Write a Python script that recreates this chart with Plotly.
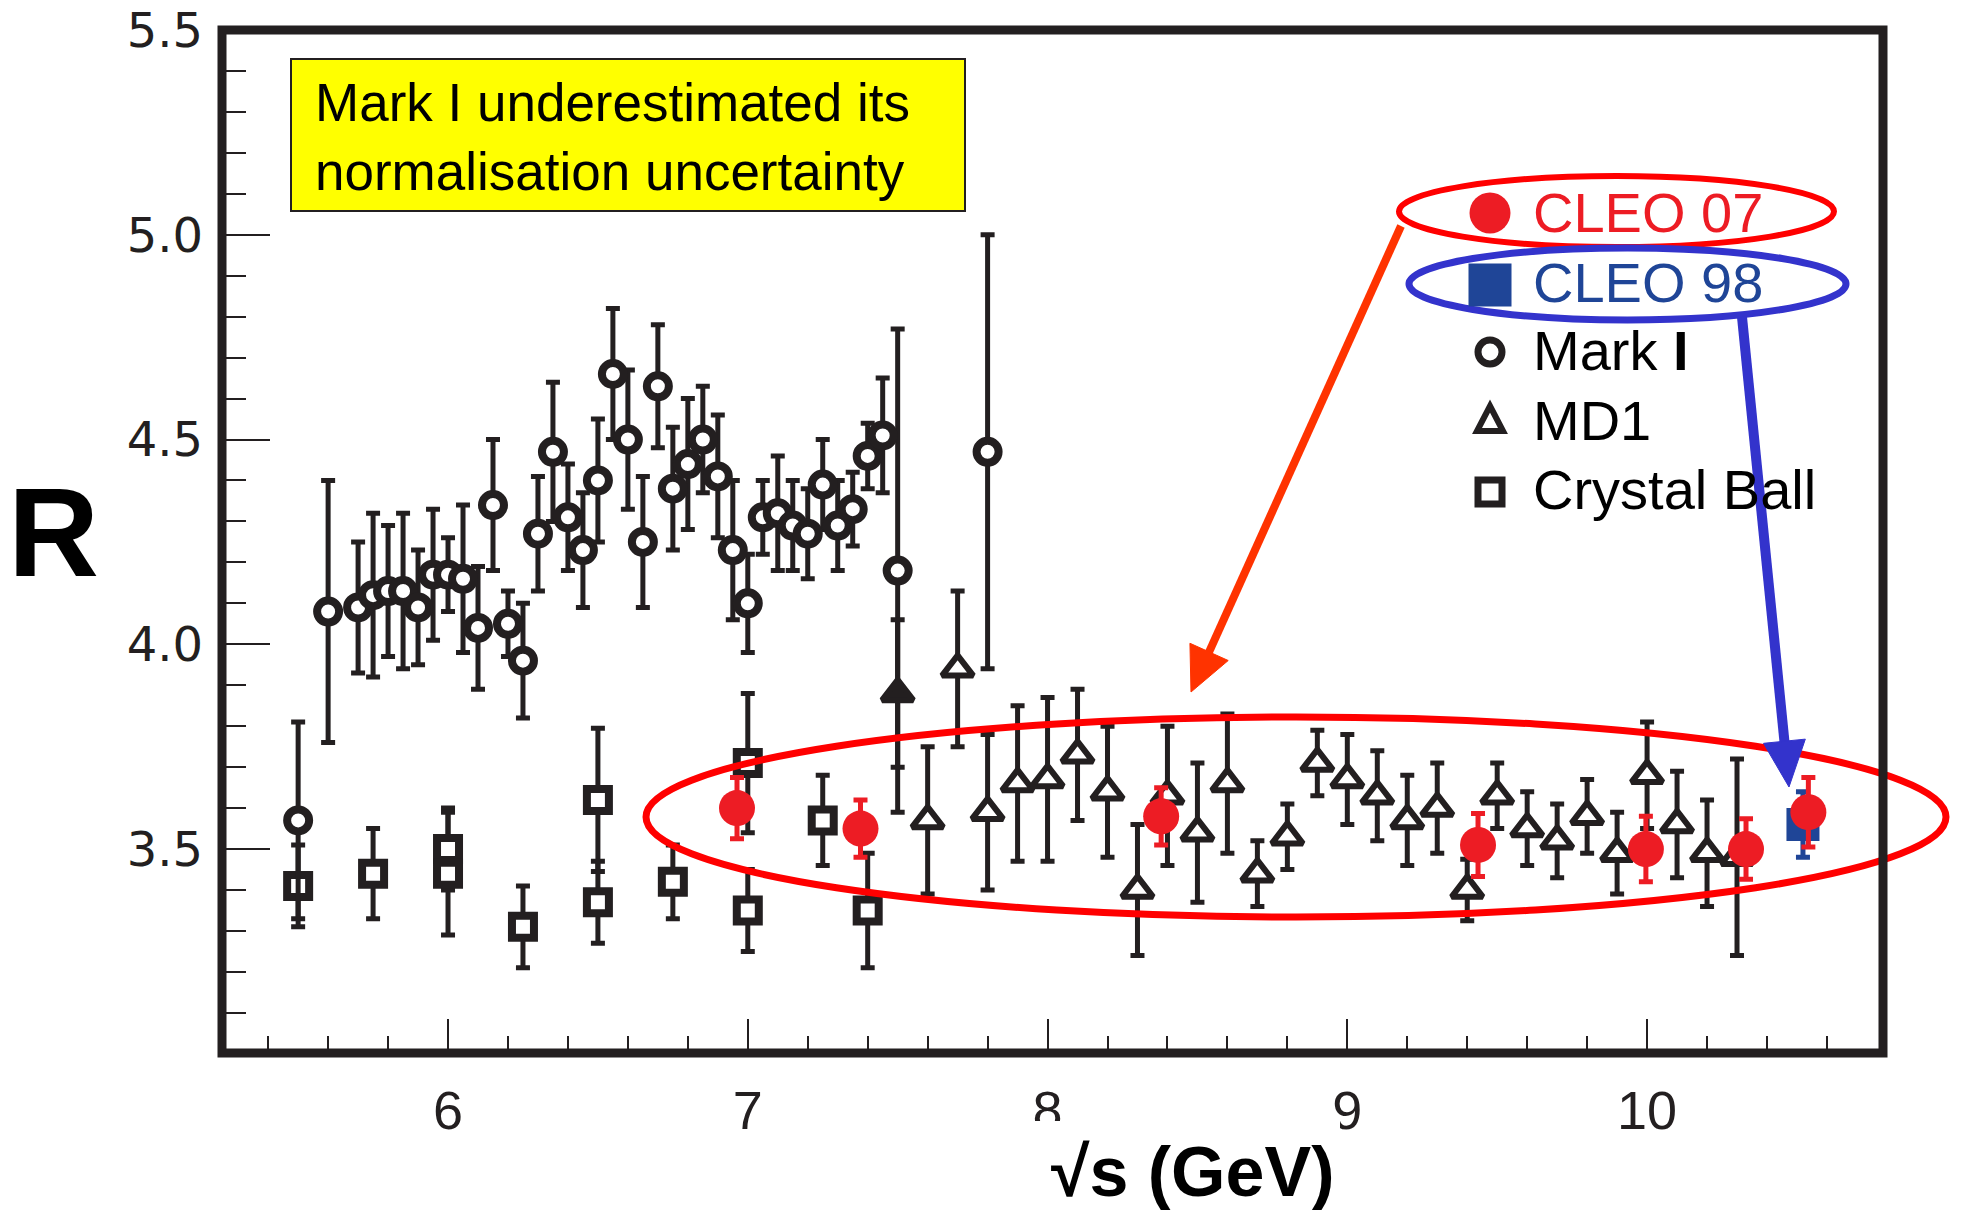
import plotly.graph_objects as go

# ---------------- data: R = sigma(e+e- -> hadrons) / sigma(mumu) ----------------
# Mark I
mark1_x = [5.50, 5.60, 5.70, 5.75, 5.80, 5.85, 5.90, 5.95, 6.00, 6.05,
           6.10, 6.15, 6.20, 6.25, 6.30, 6.35, 6.40, 6.45, 6.50, 6.55,
           6.60, 6.65, 6.70, 6.75, 6.80, 6.85, 6.90, 6.95, 7.00, 7.05,
           7.10, 7.15, 7.20, 7.25, 7.30, 7.35, 7.40, 7.45, 7.50, 7.80]
mark1_r = [3.57, 4.08, 4.09, 4.12, 4.13, 4.13, 4.09, 4.17, 4.17, 4.16,
           4.04, 4.34, 4.05, 3.96, 4.27, 4.47, 4.31, 4.23, 4.40, 4.66,
           4.50, 4.25, 4.63, 4.38, 4.44, 4.50, 4.41, 4.23, 4.10, 4.31,
           4.32, 4.29, 4.27, 4.39, 4.29, 4.33, 4.46, 4.51, 4.18, 4.47]
mark1_err = [0.24, 0.32, 0.16, 0.20, 0.16, 0.19, 0.14, 0.16, 0.09, 0.18,
             0.15, 0.16, 0.08, 0.14, 0.14, 0.17, 0.13, 0.14, 0.15, 0.16,
             0.17, 0.16, 0.15, 0.15, 0.16, 0.13, 0.15, 0.17, 0.12, 0.09,
             0.14, 0.11, 0.11, 0.11, 0.11, 0.09, 0.08, 0.14, 0.59, 0.53]

# Crystal Ball
cb_x = [5.50, 5.75, 6.00, 6.00, 6.25, 6.50, 6.50, 6.75, 7.00, 7.00, 7.25, 7.40]
cb_r = [3.41, 3.44, 3.50, 3.44, 3.31, 3.62, 3.37, 3.42, 3.71, 3.35, 3.57, 3.35]
cb_err = [0.10, 0.11, 0.10, 0.15, 0.10, 0.175, 0.10, 0.09, 0.17, 0.10, 0.11, 0.14]

# MD1
md1_x = [7.60, 7.70, 7.80, 7.90, 8.00, 8.10, 8.20, 8.30, 8.40, 8.50,
         8.60, 8.70, 8.80, 8.90, 9.00, 9.10, 9.20, 9.30, 9.40, 9.50,
         9.60, 9.70, 9.80, 9.90, 10.00, 10.10, 10.20, 10.30]
md1_r = [3.57, 3.94, 3.59, 3.66, 3.67, 3.73, 3.64, 3.40, 3.63, 3.54,
         3.66, 3.44, 3.53, 3.71, 3.67, 3.63, 3.57, 3.60, 3.40, 3.63,
         3.55, 3.52, 3.58, 3.49, 3.68, 3.56, 3.49, 3.48]
md1_err = [0.18, 0.19, 0.19, 0.19, 0.20, 0.16, 0.16, 0.16, 0.17, 0.17,
           0.17, 0.08, 0.08, 0.08, 0.11, 0.11, 0.11, 0.11, 0.075, 0.08,
           0.09, 0.09, 0.09, 0.10, 0.13, 0.13, 0.13, 0.24]

# single solid triangle point at 7.5 GeV
solid_x = [7.50]
solid_r = [3.88]
solid_err = [0.18]

# CLEO 2007 scan points
cleo07_x = [6.964, 7.376, 8.379, 9.436, 9.996, 10.330, 10.538]
cleo07_r = [3.60, 3.55, 3.58, 3.51, 3.50, 3.50, 3.59]
cleo07_err = [0.075, 0.07, 0.07, 0.077, 0.08, 0.074, 0.085]

# CLEO 1998
cleo98_x = [10.52]
cleo98_r = [3.56]
cleo98_err = [0.08]

# legend entries, top to bottom
legend_names = ["CLEO 07", "CLEO 98", "Mark <b>I</b>", "MD1", "Crystal Ball"]

# axis ranges
x_range = [5.246, 10.787]
y_range = [3.002, 5.5]

# ---------------- styling ----------------
INK = "#231F20"
RED = "#ED1C24"
BLUE = "#1F4597"
FONT = "Liberation Sans, Arial, Helvetica, sans-serif"
NARROW = "Liberation Sans Narrow, Liberation Sans, Arial, sans-serif"
WIDE = "DejaVu Sans, Verdana, sans-serif"

W, H = 1967, 1210
ML, MR, MT, MB = 222, 84, 30, 157
PW = W - ML - MR
PH = H - MT - MB


def fx(p):
    """pixel column -> paper x"""
    return (p - ML) / PW


def fy(p):
    """pixel row -> paper y"""
    return 1 - (p - MT) / PH


def err(values, color):
    return dict(type="data", array=values, visible=True, color=color,
                thickness=5, width=7)


fig = go.Figure()

fig.add_trace(go.Scatter(
    x=cb_x, y=cb_r, mode="markers", name="Crystal Ball", showlegend=False,
    error_y=err(cb_err, INK),
    marker=dict(symbol="square", size=22, color="white",
                line=dict(color=INK, width=8)),
))
fig.add_trace(go.Scatter(
    x=mark1_x, y=mark1_r, mode="markers", name="Mark I", showlegend=False,
    error_y=err(mark1_err, INK),
    marker=dict(symbol="circle", size=22, color="white",
                line=dict(color=INK, width=8)),
))
fig.add_trace(go.Scatter(
    x=md1_x, y=md1_r, mode="markers", name="MD1", showlegend=False,
    error_y=err(md1_err, INK),
    marker=dict(symbol="triangle-up", size=27, color="white",
                line=dict(color=INK, width=6)),
))
fig.add_trace(go.Scatter(
    x=solid_x, y=solid_r, mode="markers", name="MD1", showlegend=False,
    error_y=err(solid_err, INK),
    marker=dict(symbol="triangle-up", size=27, color=INK,
                line=dict(color=INK, width=6)),
))
fig.add_trace(go.Scatter(
    x=cleo98_x, y=cleo98_r, mode="markers", name="CLEO 98", showlegend=False,
    error_y=err(cleo98_err, BLUE),
    marker=dict(symbol="square", size=33, color=BLUE),
))
fig.add_trace(go.Scatter(
    x=cleo07_x, y=cleo07_r, mode="markers", name="CLEO 07", showlegend=False,
    error_y=err(cleo07_err, RED),
    marker=dict(symbol="circle", size=36, color=RED),
))

shapes = []
# highlight ellipses
shapes.append(dict(type="circle", xref="paper", yref="paper", layer="above",
                   x0=fx(646), x1=fx(1946), y0=fy(917), y1=fy(717),
                   line=dict(color="#FF0000", width=7)))
shapes.append(dict(type="circle", xref="paper", yref="paper", layer="above",
                   x0=fx(1399), x1=fx(1834), y0=fy(247), y1=fy(176),
                   line=dict(color="#FF0000", width=6)))
shapes.append(dict(type="circle", xref="paper", yref="paper", layer="above",
                   x0=fx(1409), x1=fx(1846), y0=fy(320), y1=fy(248),
                   line=dict(color="#3333CC", width=7)))
# plot frame
shapes.append(dict(type="rect", xref="paper", yref="paper", layer="above",
                   x0=0, x1=1, y0=0, y1=1,
                   line=dict(color=INK, width=9)))

# ---- legend keys (pixel-sized glyphs anchored at the key column) ----
KEY_X = 1490
key_rows = [213, 285, 352, 420, 492]
text_rows = [212, 282, 351, 420, 489]
text_colors = [RED, BLUE, "black", "black", "black"]


def key(kind, row):
    base = dict(xref="paper", yref="paper", layer="above",
                xsizemode="pixel", ysizemode="pixel",
                xanchor=fx(KEY_X), yanchor=fy(row))
    if kind == "dot":
        base.update(type="circle", x0=-20.5, x1=20.5, y0=-20.5, y1=20.5,
                    fillcolor=RED, line=dict(width=0))
    elif kind == "block":
        base.update(type="rect", x0=-21.5, x1=21.5, y0=-21.5, y1=21.5,
                    fillcolor=BLUE, line=dict(width=0))
    elif kind == "ring":
        base.update(type="circle", x0=-12, x1=12, y0=-12, y1=12,
                    fillcolor="white", line=dict(color=INK, width=7))
    elif kind == "tri":
        base.update(type="path", path="M0,14 L13,-11 L-13,-11 Z",
                    fillcolor="white", line=dict(color=INK, width=6))
    else:
        base.update(type="rect", x0=-12, x1=12, y0=-12, y1=12,
                    fillcolor="white", line=dict(color=INK, width=7))
    return base


for kind, row in zip(["dot", "block", "ring", "tri", "box"], key_rows):
    shapes.append(key(kind, row))


def arrow(tail, tip, head_len, head_half, color, width):
    (x0, y0), (x1, y1) = tail, tip
    dx, dy = x1 - x0, y1 - y0
    n = (dx * dx + dy * dy) ** 0.5
    ux, uy = dx / n, dy / n
    bx, by = x1 - ux * head_len, y1 - uy * head_len
    px_, py_ = -uy, ux
    out = [dict(type="line", xref="paper", yref="paper", layer="above",
                x0=fx(x0), y0=fy(y0), x1=fx(bx + ux * 4), y1=fy(by + uy * 4),
                line=dict(color=color, width=width))]
    c1 = (bx + px_ * head_half, by + py_ * head_half)
    c2 = (bx - px_ * head_half, by - py_ * head_half)
    path = (f"M{fx(x1)},{fy(y1)} L{fx(c1[0])},{fy(c1[1])} "
            f"L{fx(c2[0])},{fy(c2[1])} Z")
    out.append(dict(type="path", xref="paper", yref="paper", layer="above",
                    path=path, fillcolor=color, line=dict(color=color, width=1)))
    return out


shapes += arrow((1401, 226), (1191, 692), 44, 21, "#FF3300", 8)
shapes += arrow((1742, 317), (1789, 787), 46, 21, "#3333CC", 10)

# note box
shapes.append(dict(type="rect", xref="paper", yref="paper", layer="above",
                   x0=fx(291), x1=fx(965), y0=fy(211), y1=fy(59),
                   fillcolor="#FFFF00", line=dict(color=INK, width=2)))
# white strip under the axis title
shapes.append(dict(type="rect", xref="paper", yref="paper", layer="above",
                   x0=fx(1020), x1=fx(1340), y0=fy(1210), y1=fy(1121),
                   fillcolor="white", line=dict(width=0)))

annotations = [
    dict(text="Mark I underestimated its<br>normalisation uncertainty",
         xref="paper", yref="paper", x=fx(313), y=fy(137),
         xanchor="left", yanchor="middle", align="left", showarrow=False,
         font=dict(family=FONT, size=53, color="black")),
    dict(text="<b>R</b>", xref="paper", yref="paper", x=fx(53), y=fy(532),
         xanchor="center", yanchor="middle", showarrow=False,
         font=dict(family=FONT, size=126, color="black")),
    dict(text="<b>√s (GeV)</b>", xref="paper", yref="paper", x=fx(1193), y=fy(1172),
         xanchor="center", yanchor="middle", showarrow=False,
         font=dict(family=FONT, size=70, color="black")),
]
for name, row, col in zip(legend_names, text_rows, text_colors):
    annotations.append(dict(
        text=name, xref="paper", yref="paper", x=fx(1531), y=fy(row),
        xanchor="left", yanchor="middle", showarrow=False,
        font=dict(family=FONT, size=56, color=col)))

fig.update_layout(
    width=W, height=H,
    margin=dict(l=ML, r=MR, t=MT, b=MB, autoexpand=False),
    paper_bgcolor="white", plot_bgcolor="white",
    font=dict(family=FONT, color=INK),
    shapes=shapes, annotations=annotations,
    showlegend=False,
    xaxis=dict(range=x_range, showline=False, showgrid=False, zeroline=False,
               ticks="inside", ticklen=34, tickwidth=2, tickcolor=INK,
               tick0=0, dtick=1, ticklabelstandoff=21,
               tickfont=dict(family=NARROW, size=54, color=INK),
               minor=dict(ticks="inside", ticklen=17, tickwidth=2,
                          tickcolor=INK, tick0=0, dtick=0.2)),
    yaxis=dict(range=y_range, showline=False, showgrid=False, zeroline=False,
               ticks="inside", ticklen=48, tickwidth=2, tickcolor=INK,
               tick0=0, dtick=0.5, tickformat=".1f", ticklabelstandoff=18,
               tickfont=dict(family=WIDE, size=48, color=INK),
               minor=dict(ticks="inside", ticklen=24, tickwidth=2,
                          tickcolor=INK, tick0=0, dtick=0.1)),
)

fig.write_html("out.html")
